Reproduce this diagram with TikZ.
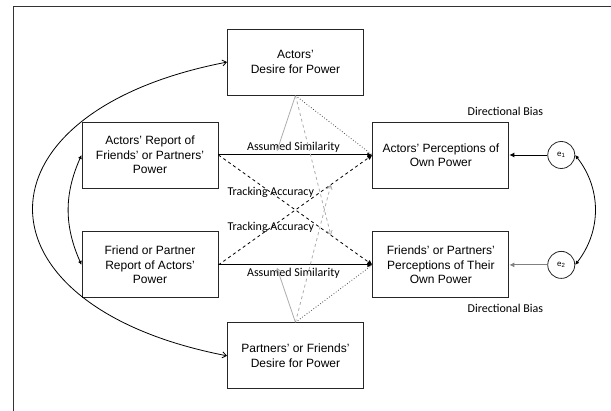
\documentclass[tikz,border=0pt]{standalone}
\usepackage{fontspec}
\setmainfont{Liberation Sans}
\newfontfamily\labfont{Carlito}
\usepackage{tikz}
\usetikzlibrary{arrows.meta,positioning,calc}

\begin{document}
\begin{tikzpicture}[
  x=1pt, y=1pt,
  font=\fontsize{12}{14.5}\selectfont,
  box/.style={
    draw=black!85, line width=0.9pt, align=center,
    minimum width=136pt, minimum height=66pt, inner sep=2pt
  },
  err/.style={draw=black!85, line width=0.8pt, circle, minimum size=27pt,
    inner sep=0pt, font=\fontsize{8}{8}\selectfont},
  path/.style={-{Latex[length=5pt,width=5pt]}, line width=1pt},
  dbl/.style={{Latex[length=4pt,width=4pt]}-{Latex[length=4pt,width=4pt]}, line width=0.8pt},
  wide/.style={{Straight Barb[length=4pt,width=6pt]}-{Straight Barb[length=4pt,width=6pt]}, line width=0.8pt},
  mod/.style={-{Straight Barb[length=4pt,width=5pt]}, line width=0.8pt, draw=gray!65},
  lab/.style={font=\labfont\fontsize{12}{12}\selectfont, inner sep=1pt}
]
\useasboundingbox (0,0) rectangle (611,-411);

% Frame
\draw[line width=0.8pt, black!80] (13,-411) |- (611,-6);

% Boxes
\node[box] (arep) at (150,-155) {Actors’ Report of\\Friends’ or Partners’\\Power};
\node[box, below=43pt of arep] (frep) {Friend or Partner\\Report of Actors’\\Power};
\node[box, right=154pt of arep] (aperc) {Actors’ Perceptions of\\Own Power};
\node[box, right=154pt of frep] (fperc) {Friends’ or Partners’\\Perceptions of Their\\Own Power};

\coordinate (topmid) at ($(arep.north)!.5!(aperc.north)$);
\node[box, above=26pt of topmid] (ades) {Actors’\\Desire for Power};
\coordinate (botmid) at ($(frep.south)!.5!(fperc.south)$);
\node[box, below=24pt of botmid] (pdes) {Partners’ or Friends’\\Desire for Power};

% Errors
\node[err, right=38pt of aperc] (e1) {e\textsubscript{1}};
\node[err, right=38pt of fperc] (e2) {e\textsubscript{2}};

% Paths
\draw[path] (arep.east) -- coordinate[pos=.38] (as1) (aperc.west)
  node[lab, midway, above=1pt, xshift=-2pt] {Assumed Similarity};
\draw[path] (frep.east) -- coordinate[pos=.38] (as2) (fperc.west)
  node[lab, midway, below=2pt, xshift=-2pt] {Assumed Similarity};

\draw[path, dashed, line width=0.8pt] (arep.east) -- coordinate[pos=.73] (ta1) (fperc.west)
  node[lab, pos=.34] {Tracking Accuracy};
\draw[path, dashed, line width=0.8pt] (frep.east) -- coordinate[pos=.73] (ta2) (aperc.west)
  node[lab, pos=.34] {Tracking Accuracy};

% Desire for power
\draw[mod] (ades.south) -- ([yshift=4pt]as1);
\draw[mod, dashed] (ades.south) -- (ta1);
\draw[dotted, line width=0.8pt, black!70] (ades.south) -- (aperc.west);

\draw[mod] (pdes.north) -- ([yshift=-3pt]as2);
\draw[mod, dashed] (pdes.north) -- (ta2);
\draw[dotted, line width=0.8pt, black!70] (pdes.north) -- (fperc.west);

% Directional bias
\draw[path, line width=0.9pt] (e1) -- (aperc.east);
\draw[path, line width=0.9pt, gray] (e2) -- (fperc.east);
\node[lab, above=5pt of aperc.north east, xshift=-4pt] (db1) {Directional Bias};
\node[lab, below=5pt of fperc.south east, xshift=-4pt] (db2) {Directional Bias};

% Correlations
\draw[wide] (ades.west) .. controls +(-259,-50) and +(-259,50) .. (pdes.west);
\draw[dbl] (arep.west) to[bend right=24] (frep.west);
\draw[dbl] (e1.east) to[bend left=38] (e2.east);

\end{tikzpicture}
\end{document}
